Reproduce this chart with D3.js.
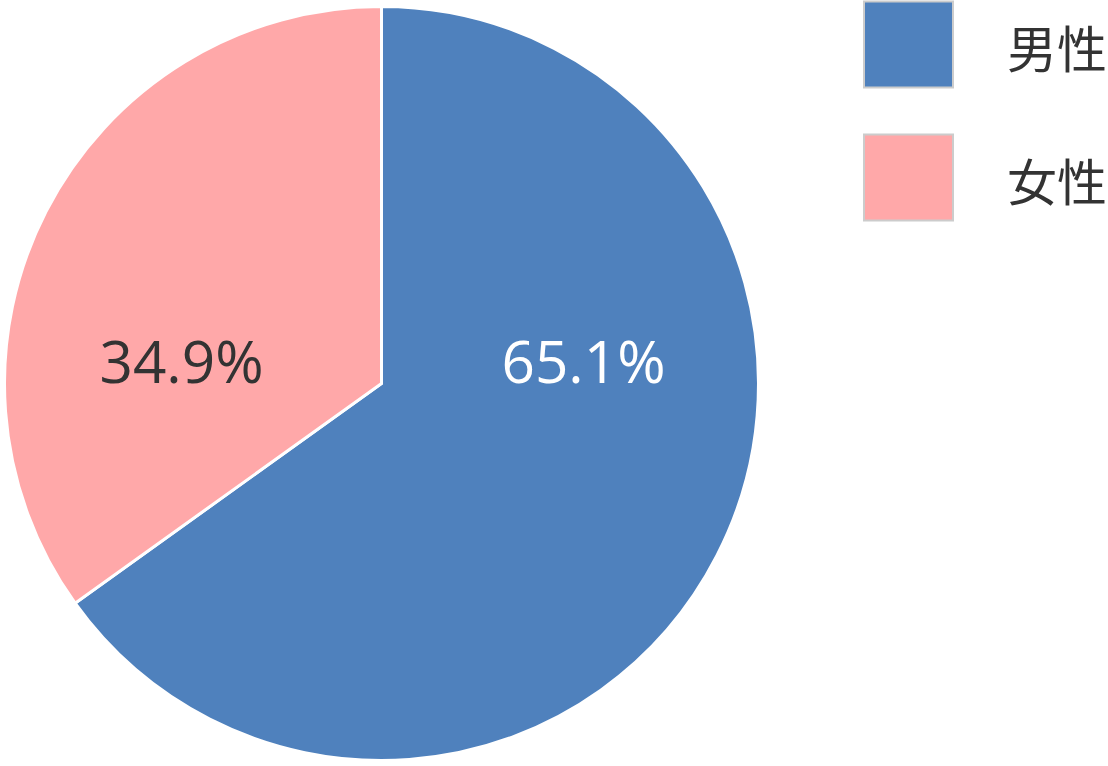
<!DOCTYPE html>
<html><head><meta charset="utf-8">
<script src="https://cdn.jsdelivr.net/npm/d3@7"></script>
<style>body{margin:0;background:#fff;}svg{display:block;}</style>
</head><body>
<svg id="c" width="1108" height="766"></svg>
<script>
const categories = ["男性", "女性"];
const values = [65.1, 34.9];
const labels = ["65.1%", "34.9%"];
const colors = ["#4f81bd", "#ffa8a9"];
const labelColors = ["#ffffff", "#333333"];

const svg = d3.select("#c");
const cx = 381.5, cy = 383.5, r = 377;
const g = svg.append("g").attr("transform", `translate(${cx},${cy})`);
const pie = d3.pie().sort(null).value(d => d)(values);
const arc = d3.arc().innerRadius(0).outerRadius(r);
g.selectAll("path").data(pie).enter().append("path")
  .attr("d", arc).attr("fill", (d,i) => colors[i])
  .attr("stroke", "#fff").attr("stroke-width", 3).attr("stroke-linejoin","miter");

const xOff = d3.scaleOrdinal().domain(categories).range([202, -200]);
g.selectAll("text.lbl").data(pie).enter().append("text")
  .attr("x", (d,i) => xOff(categories[i])).attr("y", -24)
  .attr("text-anchor", "middle").attr("dominant-baseline", "central")
  .attr("font-family", "'Open Sans', sans-serif").attr("font-size", 58.5)
  .attr("fill", (d,i) => labelColors[i]).text((d,i) => labels[i]);

const ly = d3.scalePoint().domain(categories).range([45, 178]);
const lg = svg.append("g");
lg.selectAll("rect").data(categories).enter().append("rect")
  .attr("x", 864).attr("y", d => ly(d) - 43.5).attr("width", 89).attr("height", 86)
  .attr("fill", (d,i) => colors[i]).attr("stroke", "#cccccc").attr("stroke-width", 2);
lg.selectAll("text").data(categories).enter().append("text")
  .attr("x", 1007).attr("y", d => ly(d) + 1)
  .attr("dominant-baseline", "central")
  .attr("font-family", "'Noto Sans CJK JP', sans-serif").attr("font-size", 50)
  .attr("fill", "#333333").text(d => d);
</script>
</body></html>
